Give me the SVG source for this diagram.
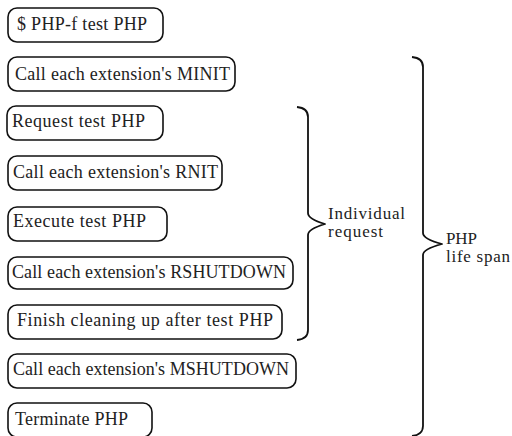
<svg xmlns="http://www.w3.org/2000/svg" width="512" height="436" viewBox="0 0 512 436">
<style>
.box{fill:#fff;stroke:#111;stroke-width:1.6}
.t{font-family:"Liberation Serif","Times New Roman",serif;font-size:18px;fill:#222}
.l{font-family:"Liberation Serif","Times New Roman",serif;font-size:17px;fill:#222}
.br{fill:none;stroke:#111;stroke-width:1.8;stroke-linejoin:round}
</style>
<rect width="512" height="436" fill="#fff"/>
<g id="n1"><rect class="box" x="8" y="8" width="155" height="34" rx="9"/><text class="t" x="17" y="30" textLength="130" lengthAdjust="spacing">$ PHP-f test PHP</text></g>
<g id="n2"><rect class="box" x="8" y="57" width="227" height="34" rx="9"/><text class="t" x="15" y="80" textLength="215" lengthAdjust="spacing">Call each extension's MINIT</text></g>
<g id="n3"><rect class="box" x="7" y="106" width="156" height="34" rx="9"/><text class="t" x="12" y="127" textLength="133" lengthAdjust="spacing">Request test PHP</text></g>
<g id="n4"><rect class="box" x="8" y="156" width="214" height="34" rx="9"/><text class="t" x="13" y="178" textLength="205" lengthAdjust="spacing">Call each extension's RNIT</text></g>
<g id="n5"><rect class="box" x="8" y="207" width="159" height="34" rx="9"/><text class="t" x="13" y="227" textLength="133" lengthAdjust="spacing">Execute test PHP</text></g>
<g id="n6"><rect class="box" x="8" y="257" width="285" height="32" rx="9"/><text class="t" x="12" y="278" textLength="274" lengthAdjust="spacing">Call each extension's RSHUTDOWN</text></g>
<g id="n7"><rect class="box" x="8" y="305" width="274" height="34" rx="9"/><text class="t" x="17" y="326" textLength="256" lengthAdjust="spacing">Finish cleaning up after test PHP</text></g>
<g id="n8"><rect class="box" x="8" y="354" width="288" height="34" rx="9"/><text class="t" x="13" y="375" textLength="276" lengthAdjust="spacing">Call each extension's MSHUTDOWN</text></g>
<g id="n9"><rect class="box" x="8" y="403" width="144" height="34" rx="9"/><text class="t" x="15" y="425" textLength="113" lengthAdjust="spacing">Terminate PHP</text></g>
<g id="connectors">
<path class="br" d="M297,107 Q308,108 308,117 L308,213 Q308,219 325,224 Q308,229 308,235 L308,330 Q308,339 297,340"/>
<path class="br" d="M412,57 Q423,58 423,67 L423,233 Q423,239 442,244 Q423,249 423,255 L423,426 Q423,435 412,436"/>
</g>
<g id="labels">
<text class="l" x="328" y="219" textLength="77" lengthAdjust="spacing">Individual</text>
<text class="l" x="328" y="237" textLength="55" lengthAdjust="spacing">request</text>
<text class="l" x="446" y="244" textLength="31" lengthAdjust="spacing">PHP</text>
<text class="l" x="446" y="262" textLength="64" lengthAdjust="spacing">life span</text>
</g>
</svg>
